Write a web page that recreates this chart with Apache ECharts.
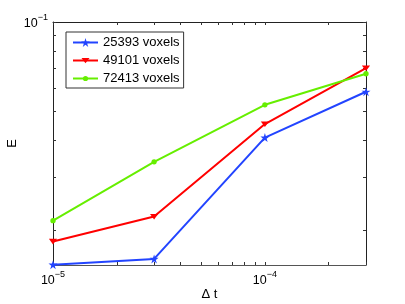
<!DOCTYPE html>
<html>
<head>
<meta charset="utf-8">
<script src="https://cdn.jsdelivr.net/npm/echarts@6/dist/echarts.min.js"></script>
<style>
html,body{margin:0;padding:0;background:#fff;}
#chart{width:405px;height:304px;}
</style>
</head>
<body>
<div id="chart"></div>
<script>
// Data
const dt = [1e-5, 3e-5, 1e-4, 3e-4];
const seriesNames = ['25393 voxels', '49101 voxels', '72413 voxels'];
const e25393 = [0.0153, 0.0160, 0.0409, 0.0583];
const e49101 = [0.0183, 0.0222, 0.0454, 0.0700];
const e72413 = [0.0215, 0.0339, 0.0527, 0.0670];
const xTickValues = [1e-5, 2e-5, 3e-5, 4e-5, 5e-5, 6e-5, 7e-5, 8e-5, 9e-5, 1e-4, 2e-4, 3e-4];
const xLabelValues = [1e-5, 1e-4];
const yTickValues = [0.02, 0.03, 0.04, 0.05, 0.06, 0.07, 0.08, 0.09, 0.1];
const yLabelValues = [0.1];
const xRange = [1e-5, 3e-4];
const yRange = [0.01526, 0.1];

const L = Math.log10;
const FONT = 'Liberation Sans';
// marker shapes (padded boxes so legend and plot markers share one size)
const star = 'path://M100,0 L122.45,69.1 L195.1,69.1 L136.3,111.8 L158.8,180.9 L100,138.2 L41.2,180.9 L63.7,111.8 L4.9,69.1 L77.55,69.1 Z';
const triDown = 'path://M0,0 M88,88 M4,18 L84,18 L44,72 Z';
const dot = 'path://M0,0 M88,88 M18,44 A26,26 0 1,0 70,44 A26,26 0 1,0 18,44 Z';

function pts(arr){ return dt.map((x,i)=>[L(x), L(arr[i])]); }
function powLabel(v){ return '{b|10}{s|\u2212' + Math.round(-v) + '}'; }
const rich = {
  b:{fontSize:12.5, fontFamily:FONT, color:'#000', lineHeight:17, verticalAlign:'bottom'},
  s:{fontSize:9, fontFamily:FONT, color:'#000', lineHeight:17, verticalAlign:'top'}
};

function xAxis(pos, labels){
  return {
    type:'value', position:pos, min:L(xRange[0]), max:L(xRange[1]),
    axisLine:{show:true, onZero:false, lineStyle:{color: pos==='bottom' ? '#555' : '#222', width:1}},
    axisTick:{show:true, inside:true, length:3, customValues:xTickValues.map(L), lineStyle:{color:'#333'}},
    axisLabel:{show:labels, customValues:xLabelValues.map(L), formatter:powLabel, rich:rich, margin:5},
    splitLine:{show:false},
    name: labels ? '\u0394 t' : '', nameLocation:'middle', nameGap:23, nameMoveOverlap:false,
    nameTextStyle:{fontFamily:FONT, fontSize:13, color:'#000'}
  };
}
function yAxis(pos, labels){
  return {
    type:'value', position:pos, min:L(yRange[0]), max:L(yRange[1]),
    axisLine:{show:true, onZero:false, lineStyle:{color:'#222', width:1}},
    axisTick:{show:true, inside:true, length:3, customValues:yTickValues.map(L), lineStyle:{color:'#333'}},
    axisLabel:{show:labels, customValues:yLabelValues.map(L), formatter:powLabel, rich:rich, margin:5},
    splitLine:{show:false},
    name: labels ? 'E' : '', nameLocation:'middle', nameGap:34, nameMoveOverlap:false,
    nameTextStyle:{fontFamily:FONT, fontSize:13, color:'#000'}
  };
}

const chart = echarts.init(document.getElementById('chart'), null, {renderer:'canvas'});
chart.setOption({
  animation:false,
  backgroundColor:'#fff',
  grid:{left:53, right:39, top:22, bottom:39, containLabel:false, outerBoundsMode:'none'},
  xAxis:[xAxis('bottom', true), xAxis('top', false)],
  yAxis:[yAxis('left', true), yAxis('right', false)],
  legend:{
    orient:'vertical', left:66, top:32,
    backgroundColor:'#fff', borderColor:'#333', borderWidth:1, borderRadius:0,
    padding:[4,4,3,6], itemWidth:25, itemHeight:11, itemGap:5,
    textStyle:{fontFamily:FONT, fontSize:13, color:'#000'},
    data:seriesNames
  },
  series:[
    {name:seriesNames[0], type:'line', data:pts(e25393), symbol:star, symbolSize:9,
     clip:false, color:'#2244ff', lineStyle:{width:2, color:'#2244ff'}, itemStyle:{color:'#2244ff'}},
    {name:seriesNames[1], type:'line', data:pts(e49101), symbol:triDown, symbolSize:9,
     clip:false, color:'#ff0000', lineStyle:{width:2, color:'#ff0000'}, itemStyle:{color:'#ff0000'}},
    {name:seriesNames[2], type:'line', data:pts(e72413), symbol:dot, symbolSize:9,
     clip:false, color:'#66ee00', lineStyle:{width:2, color:'#66ee00'}, itemStyle:{color:'#66ee00'}}
  ]
});
</script>
</body>
</html>
